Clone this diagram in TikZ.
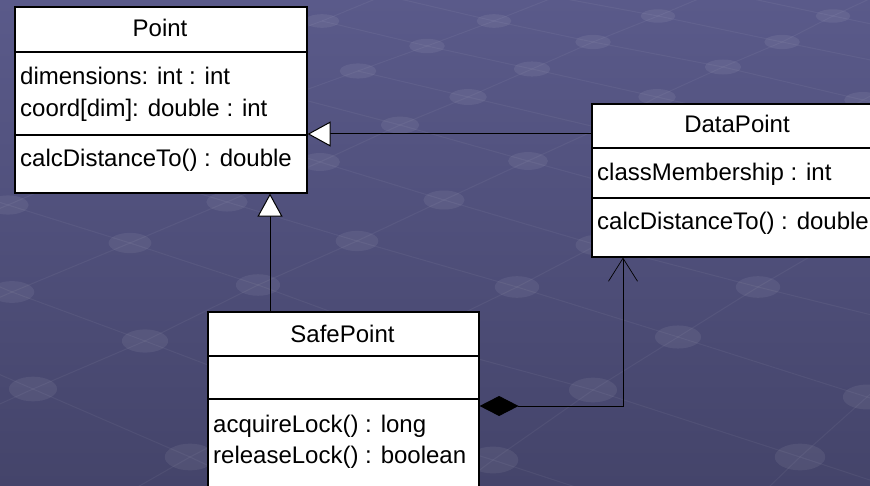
\documentclass[tikz,border=0pt]{standalone}
\usepackage{fontspec}
\setmainfont{Liberation Sans}
\usetikzlibrary{arrows.meta}
\definecolor{bgtop}{RGB}{90,90,138}
\definecolor{bgbottom}{RGB}{68,68,106}
\tikzset{
  umlclass/.style={draw,fill=white,line width=1.6pt,anchor=north west,inner sep=0pt},
  member/.style={anchor=base west,inner sep=0pt},
  classname/.style={anchor=base,inner sep=0pt},
  divider/.style={line width=1.2pt},
  inherit/.style={line width=1pt,-{Triangle[open,length=23pt,width=25pt,fill=white]}},
  compose/.style={line width=1pt,{Diamond[length=39pt,width=20pt]}-{Straight Barb[length=23pt,width=29pt,line width=0.7pt]}},
  floorline/.style={white,opacity=0.05,line width=1pt},
  bump/.style={fill=white,fill opacity=0.065}
}
\begin{document}
\begin{tikzpicture}[x=1pt,y=-1pt,font=\fontsize{24}{28}\selectfont]
	\useasboundingbox (0,0) rectangle (870,486);
	\clip (0,0) rectangle (870,486);
	\shade[top color=bgtop,bottom color=bgbottom] (0,0) rectangle (870,486);
	\draw[floorline] (250,47) -- (322,21) -- (385,-5);
	\draw[floorline] (-100,250) -- (8,205) -- (103,164) -- (200,125) -- (289,96) -- (358,71) -- (427,46) -- (494,21) -- (560,-5);
	\draw[floorline] (-110,345) -- (12,292) -- (130,243) -- (227,202) -- (320,162) -- (400,125) -- (468,97) -- (532,69) -- (593,42) -- (658,16) -- (715,-8);
	\draw[floorline] (-80,440) -- (33,389) -- (145,341) -- (258,285) -- (357,241) -- (444,200) -- (528,161) -- (600,128) -- (657,97) -- (723,67) -- (782,42) -- (833,16) -- (880,-6);
	\draw[floorline] (80,520) -- (190,457) -- (300,400) -- (408,340) -- (517,287) -- (597,245) -- (690,197) -- (780,150) -- (863,100) -- (900,80);
	\draw[floorline] (400,530) -- (493,460) -- (593,390) -- (678,337) -- (758,287) -- (830,245) -- (900,205);
	\draw[floorline] (740,515) -- (800,457) -- (867,397) -- (900,368);
	\draw[floorline] (-80,340) -- (33,389) -- (190,457) -- (260,490);
	\draw[floorline] (-100,245) -- (12,292) -- (145,341) -- (300,400) -- (493,460) -- (600,495);
	\draw[floorline] (-100,170) -- (8,205) -- (130,243) -- (258,285) -- (408,340) -- (593,390) -- (800,457) -- (900,490);
	\draw[floorline] (103,164) -- (227,202) -- (357,241) -- (517,287) -- (678,337) -- (867,397) -- (900,407);
	\draw[floorline] (200,125) -- (320,162) -- (444,200) -- (597,245) -- (758,287) -- (900,322);
	\draw[floorline] (289,96) -- (400,125) -- (528,161) -- (663,198) -- (900,255);
	\draw[floorline] (358,71) -- (468,97) -- (600,128) -- (900,195);
	\draw[floorline] (322,21) -- (427,46) -- (532,69) -- (657,97) -- (790,127) -- (900,152);
	\draw[floorline] (400,-1) -- (494,21) -- (593,42) -- (723,67) -- (863,100) -- (900,108);
	\draw[floorline] (555,-3) -- (658,16) -- (782,42) -- (900,66);
	\draw[floorline] (720,-8) -- (833,16) -- (900,30);
	\foreach \bx/\by in {322/21,494/21,427/46,358/71,532/69,468/97,400/125,593/42,658/16,833/16,782/42,723/67,657/97,863/100,528/161,444/200,357/241,320/162,227/202,258/285,130/243,8/205,12/292,145/341,33/389,190/457,517/287,597/245,758/287,678/337,593/390,493/460,800/457,867/397}
		\fill[bump] (\bx,\by) ellipse ({17+0.018*\by} and {6.5+0.015*\by});

	\node[umlclass,minimum width=292pt,minimum height=186pt] (point) at (14,6) {};
	\draw[divider] (point.west |- 0,52) -- (point.east |- 0,52);
	\draw[divider] (point.west |- 0,135) -- (point.east |- 0,135);
	\node[classname] (pointname) at (160,37) {Point};
	\node[member] (pointdim) at (20,85) {dimensions: int : int};
	\node[member] (pointcoord) at (20,117) {coord[dim]: double : int};
	\node[member] (pointcalc) at (20,167) {calcDistanceTo() : double};

	\node[umlclass,minimum width=292pt,minimum height=153pt] (datapoint) at (591,103) {};
	\draw[divider] (datapoint.west |- 0,148) -- (datapoint.east |- 0,148);
	\draw[divider] (datapoint.west |- 0,198) -- (datapoint.east |- 0,198);
	\node[classname] (dataname) at (737,133) {DataPoint};
	\node[member] (dataclass) at (597,181) {classMembership : int};
	\node[member] (datacalc) at (597,230) {calcDistanceTo() : double};

	\node[umlclass,minimum width=271pt,minimum height=200pt] (safepoint) at (207,311) {};
	\draw[divider] (safepoint.west |- 0,356) -- (safepoint.east |- 0,356);
	\draw[divider] (safepoint.west |- 0,399) -- (safepoint.east |- 0,399);
	\node[classname] (safename) at (342.5,342) {SafePoint};
	\node[member] (safeacquire) at (213,432) {acquireLock() : long};
	\node[member] (saferelease) at (213,463) {releaseLock() : boolean};

	\draw[inherit] (datapoint.west |- 0,134) -- (point.east |- 0,134);
	\draw[inherit] (safepoint.north -| 270,0) -- (point.south -| 270,0);
	\draw[compose] (safepoint.east |- 0,406) -| (datapoint.south -| 623,0);
\end{tikzpicture}
\end{document}
